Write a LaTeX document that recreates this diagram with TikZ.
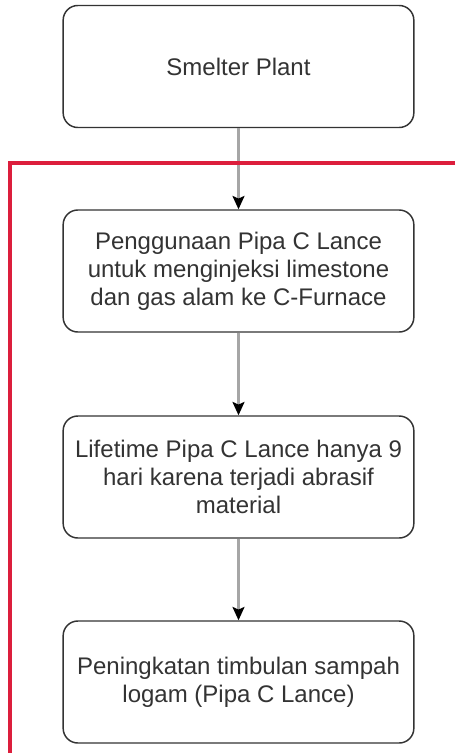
\documentclass[tikz,border=0pt]{standalone}
\usepackage{fontspec}
\setmainfont{Liberation Sans}
\usetikzlibrary{arrows.meta}
\definecolor{framered}{RGB}{220,30,60}
\definecolor{boxtext}{RGB}{51,51,51}
\tikzset{box/.style={draw=black!80, line width=1.1pt, rounded corners=11pt, fill=white,
    minimum width=263pt, minimum height=91.5pt, inner sep=0pt, align=center,
    text=boxtext, font=\fontsize{18}{21}\selectfont}}
\begin{document}
\begin{tikzpicture}[x=0.75pt, y=-0.75pt, >={Stealth[black,length=10pt,width=9pt,inset=2pt]}]
    \useasboundingbox (0,0) rectangle (455,753);
    \node[box] (plant) at (238.5,66.5) {Smelter Plant};
    \node[box] (lance) at (238.5,271) {Penggunaan Pipa C Lance\\untuk menginjeksi limestone\\dan gas alam ke C-Furnace};
    \node[box] (life) at (238.5,477) {Lifetime Pipa C Lance hanya 9\\hari karena terjadi abrasif\\material};
    \node[box] (waste) at (238.5,682) {Peningkatan timbulan sampah\\logam (Pipa C Lance)};
    \draw[->, gray!70, line width=1.8pt] (plant) -- (lance);
    \draw[->, gray!70, line width=1.8pt] (lance) -- (life);
    \draw[->, gray!70, line width=1.8pt] (life) -- (waste);
    % red frame
    \coordinate (frametop) at (455,163);
    \coordinate (framecorner) at (10,163);
    \coordinate (framebottom) at (10,753);
    \draw[framered, line width=3pt] (frametop) -- (framecorner) -- (framebottom);
\end{tikzpicture}
\end{document}
